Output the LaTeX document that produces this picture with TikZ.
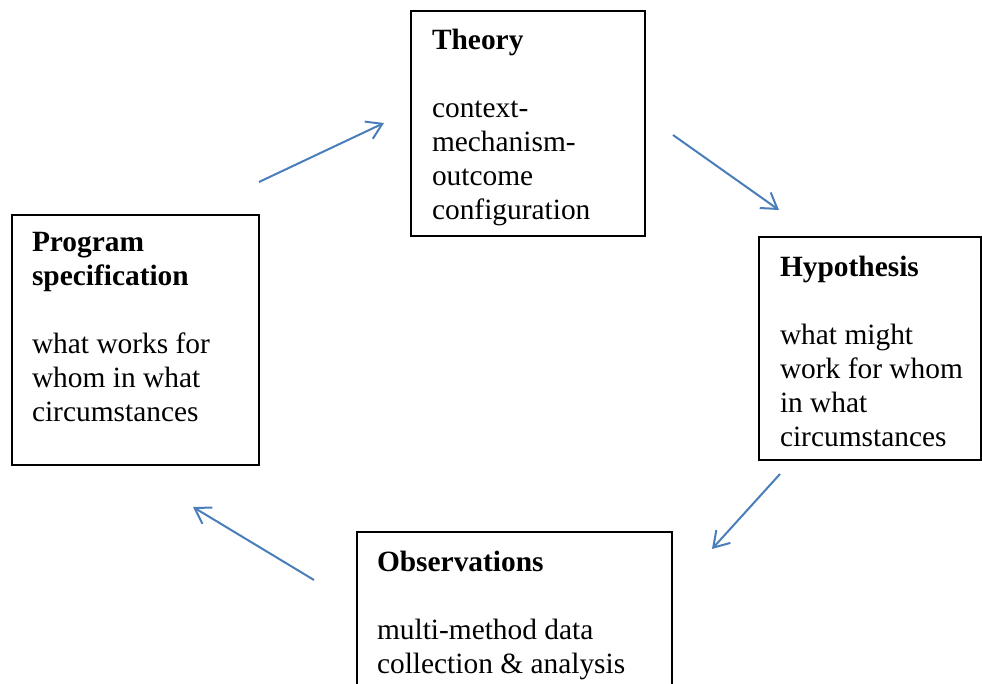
\documentclass[tikz,border=0pt]{standalone}
\usepackage{fontspec}
\setmainfont{Liberation Serif}
\usetikzlibrary{arrows.meta}
\definecolor{cyclearrow}{HTML}{4A7EBB}
\begin{document}
\begin{tikzpicture}[x=1pt,y=-1pt,
  stagebox/.style={draw=black,line width=1.4pt,inner sep=0pt,outer sep=0pt,anchor=north west},
  stagetext/.style={anchor=north west,inner sep=0pt,outer sep=0pt,align=left,
    font=\fontsize{29.4}{34}\selectfont},
  cyclearr/.style={draw=cyclearrow,line width=2pt,
    -{Straight Barb[length=15pt,width=19pt,line width=2pt]}}
]
\useasboundingbox (0,0) rectangle (982,684);
\clip (0,0) rectangle (982,684);

% stage boxes
\node[stagebox,minimum width=234pt,minimum height=225pt] (theory) at (411,11) {};
\node[stagebox,minimum width=247pt,minimum height=250pt] (program) at (12,215) {};
\node[stagebox,minimum width=222pt,minimum height=223pt] (hypo) at (759,237) {};
\node[stagebox,minimum width=315pt,minimum height=180pt] (obs) at (357,532) {};

% stage texts (first baseline sits 24pt below the node top)
\node[stagetext] (theorytxt) at (432,26)
  {\rule{0pt}{24pt}\textbf{Theory}\\[34pt]context-\\mechanism-\\outcome\\configuration};
\node[stagetext] (programtxt) at (32,227)
  {\rule{0pt}{24pt}\textbf{Program}\\\textbf{specification}\\[34pt]what works for\\whom in what\\circumstances};
\node[stagetext] (hypotxt) at (780,252)
  {\rule{0pt}{24pt}\textbf{Hypothesis}\\[34pt]what might\\work for whom\\in what\\circumstances};
\node[stagetext] (obstxt) at (377,547)
  {\rule{0pt}{24pt}\textbf{Observations}\\[34pt]multi-method data\\collection \& analysis};

% cycle arrows
\coordinate (a1s) at (259,182); \coordinate (a1e) at (384,123);
\coordinate (a2s) at (673,135); \coordinate (a2e) at (779,210);
\coordinate (a3s) at (780,474); \coordinate (a3e) at (712,549);
\coordinate (a4s) at (314,580); \coordinate (a4e) at (193,507);
\draw[cyclearr] (a1s) -- (a1e);
\draw[cyclearr] (a2s) -- (a2e);
\draw[cyclearr] (a3s) -- (a3e);
\draw[cyclearr] (a4s) -- (a4e);
\end{tikzpicture}
\end{document}
